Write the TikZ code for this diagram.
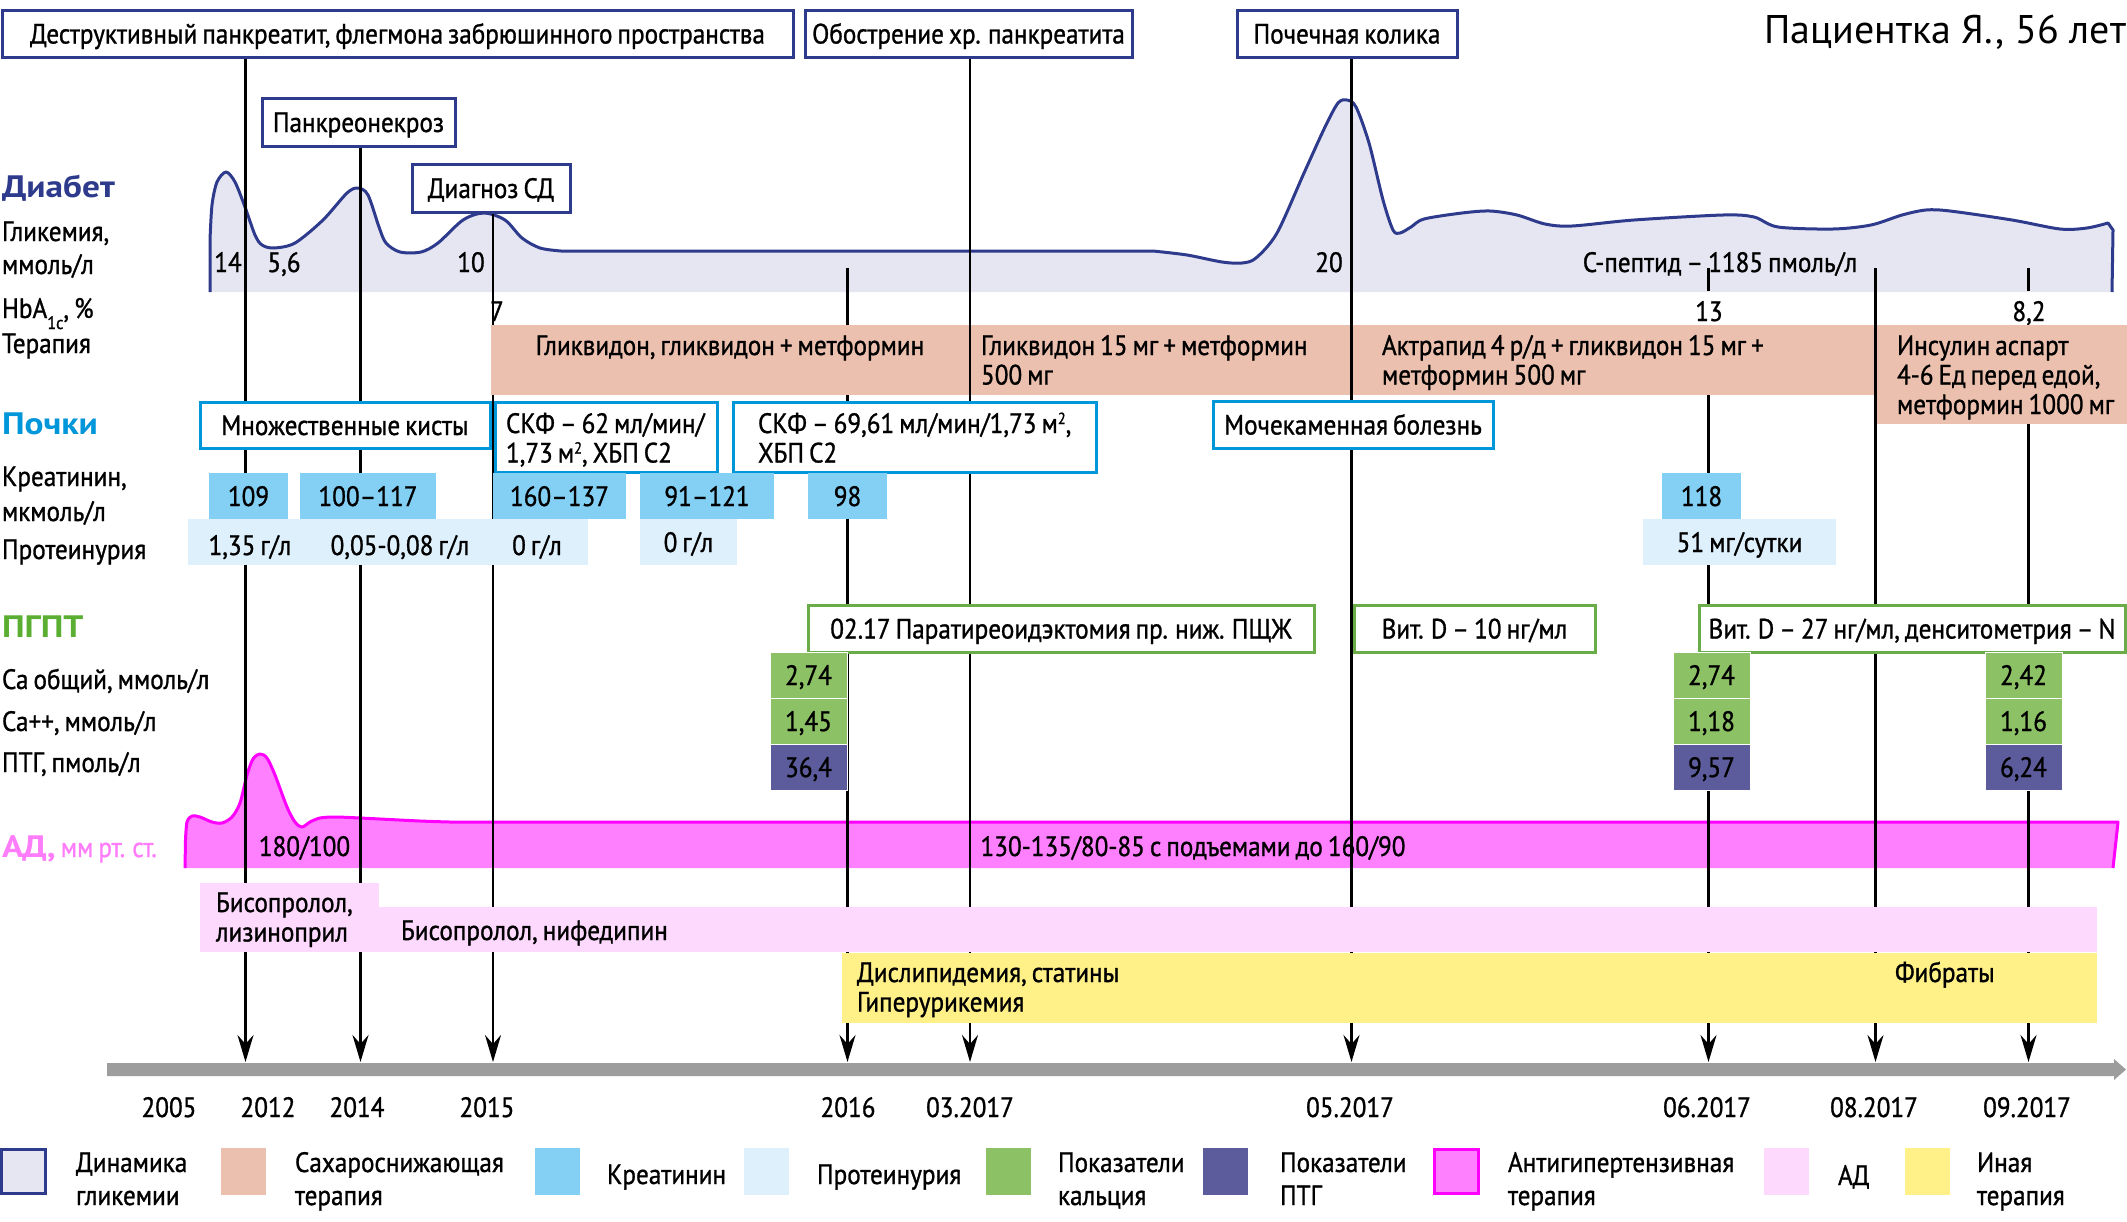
\documentclass[tikz,border=0pt]{standalone}
\usepackage{fontspec}
\setmainfont[FakeStretch=0.9, WordSpace=0.75, UprightFeatures={FakeBold=1}]{PT Sans}
\newfontfamily\wideff[FakeStretch=1.14]{PT Sans}
\newfontfamily\titleff{PT Sans}
\usetikzlibrary{arrows.meta}
\pgfdeclarelayer{bg}
\pgfdeclarelayer{lines}
\pgfdeclarelayer{top}
\pgfsetlayers{bg,lines,main,top}
\definecolor{navy}{HTML}{2E3A8C}
\definecolor{lav}{HTML}{E6E6F2}
\definecolor{salmon}{HTML}{ECC0AE}
\definecolor{kcyan}{HTML}{0096DA}
\definecolor{creat}{HTML}{84D0F5}
\definecolor{prot}{HTML}{DEF0FC}
\definecolor{pgreen}{HTML}{6AAD48}
\definecolor{pgtxt}{HTML}{5AAF33}
\definecolor{cagreen}{HTML}{8DC165}
\definecolor{ptgpur}{HTML}{5C5C9C}
\definecolor{adfill}{HTML}{FF80FF}
\definecolor{adline}{HTML}{FF00FF}
\definecolor{adtxt}{HTML}{FF7DFB}
\definecolor{palepink}{HTML}{FDD9FD}
\definecolor{yel}{HTML}{FFF087}
\definecolor{tlgray}{HTML}{9D9D9D}
\newcommand\fs{\fontsize{28}{29.5}\selectfont}
\newcommand\hfs{\fontsize{31}{32}\selectfont\wideff\bfseries}
\newcommand\ml[1]{\begin{tabular}[t]{@{}l@{}}#1\end{tabular}}
\newcommand\mlb[1]{{\renewcommand\arraystretch{1.12}\begin{tabular}[t]{@{}l@{}}#1\end{tabular}}}
\newcommand\sqm{м\raisebox{9pt}{\fontsize{16}{16}\selectfont 2}}
\begin{document}
\begin{tikzpicture}[x=1pt,y=-1pt,
  every node/.style={font=\fs, inner sep=0pt, outer sep=0pt},
  txt/.style={anchor=base west},
  ctxt/.style={anchor=base},
  hdr/.style={anchor=base west, font=\hfs},
  rbox/.style={anchor=north west, text height=26pt, text depth=6pt},
  tbox/.style={rbox, draw=navy, line width=3pt, fill=white},
  kbox/.style={rbox, draw=kcyan, line width=3pt, fill=white},
  gbox/.style={rbox, draw=pgreen, line width=3pt, fill=white},
  ther/.style={rbox, fill=salmon},
  crb/.style={rbox, fill=creat, minimum height=46},
  prb/.style={rbox, fill=prot, minimum height=46},
  cab/.style={rbox, fill=cagreen, draw=white, line width=1pt, minimum width=77, minimum height=46},
  ptb/.style={rbox, fill=ptgpur, draw=white, line width=1pt, minimum width=77, minimum height=46},
  adb/.style={rbox, fill=palepink},
  othb/.style={rbox, fill=yel},
  legb/.style={rbox, minimum width=45, minimum height=47},
  evline/.style={line width=2.5pt, black},
  evarrow/.style={evline, -{Stealth[length=27pt,width=16pt,inset=9pt]}}
]
\useasboundingbox (0,0) rectangle (2127,1221);

% ---------- curves (background) ----------
\begin{pgfonlayer}{bg}
\fill[lav] (210,292) -- plot[smooth, tension=0.5] coordinates {(210,240) (212,205) (217,182) (226,172) (235,182) (245,207) (255,235) (262,245) (274,248) (295,243) (323,220) (347,193) (358,188) (368,195) (379,227) (386,243) (400,252) (421,252) (438,243) (463,220) (484,213) (505,220) (522,238) (540,248) (561,251)}
  -- plot[smooth, tension=0.5] coordinates {(1153,251) (1187,255) (1222,262) (1242,263) (1256,258) (1277,233) (1304,173) (1325,127) (1338,103) (1347,100) (1356,107) (1369,143) (1383,200) (1393,230) (1400,233) (1411,227) (1424,219) (1462,213) (1490,211) (1517,215) (1545,224) (1572,226) (1634,220) (1723,215) (1754,217) (1778,227) (1833,229) (1871,225) (1902,215) (1926,210) (1950,211) (2012,220) (2060,229) (2087,228) (2108,223)}
  -- (2113,230) -- (2112,292) -- cycle;
\draw[navy, line width=3pt, line join=round] (210,292) -- plot[smooth, tension=0.5] coordinates {(210,240) (212,205) (217,182) (226,172) (235,182) (245,207) (255,235) (262,245) (274,248) (295,243) (323,220) (347,193) (358,188) (368,195) (379,227) (386,243) (400,252) (421,252) (438,243) (463,220) (484,213) (505,220) (522,238) (540,248) (561,251)}
  -- plot[smooth, tension=0.5] coordinates {(1153,251) (1187,255) (1222,262) (1242,263) (1256,258) (1277,233) (1304,173) (1325,127) (1338,103) (1347,100) (1356,107) (1369,143) (1383,200) (1393,230) (1400,233) (1411,227) (1424,219) (1462,213) (1490,211) (1517,215) (1545,224) (1572,226) (1634,220) (1723,215) (1754,217) (1778,227) (1833,229) (1871,225) (1902,215) (1926,210) (1950,211) (2012,220) (2060,229) (2087,228) (2108,223)}
  -- (2113,230) -- (2112,292);
\fill[adfill] (185,868) -- plot[smooth, tension=0.5] coordinates {(185.5,840) (187,822) (192,816) (200,817) (212,822) (222,823) (232,817) (240,803) (247,775) (253,759) (260,754) (267,758) (275,775) (287,807) (295,822) (302,827) (310,822) (320,818) (335,817) (360,818) (420,821) (450,822)}
  -- (2118,822) -- (2113,868) -- cycle;
\draw[adline, line width=3pt, line join=round] (185,868) -- plot[smooth, tension=0.5] coordinates {(185.5,840) (187,822) (192,816) (200,817) (212,822) (222,823) (232,817) (240,803) (247,775) (253,759) (260,754) (267,758) (275,775) (287,807) (295,822) (302,827) (310,822) (320,818) (335,817) (360,818) (420,821) (450,822)}
  -- (2118,822) -- (2113,868);
\end{pgfonlayer}

% ---------- title ----------
\node[anchor=base east, font=\fontsize{40}{42}\selectfont\titleff] (title) at (2126,43) {Пациентка Я., 56 лет};

% ---------- event boxes ----------
\node[tbox, minimum width=791, minimum height=47] (tA) at (2,10) {Деструктивный панкреатит, флегмона забрюшинного пространства};
\node[tbox, minimum width=327, minimum height=47] (tB) at (805,10) {Обострение хр. панкреатита};
\node[tbox, minimum width=220, minimum height=47] (tC) at (1237,10) {Почечная колика};
\node[tbox, minimum width=193, minimum height=48] (tD) at (262,98) {Панкреонекроз};
\node[tbox, minimum width=158, minimum height=48] (tE) at (412,164) {Диагноз СД};

% ---------- left labels ----------
\node[hdr, text=navy] (hDiab) at (2,197) {Диабет};
\node[txt] (lGl1) at (2,241) {Гликемия,};
\node[txt] (lGl2) at (2,274) {ммоль/л};
\node[txt] (lHb) at (2,318) {HbA\raisebox{-11pt}{\fontsize{18}{18}\selectfont 1c}, \%};
\node[txt] (lTh) at (2,353) {Терапия};
\node[hdr, text=kcyan] (hKid) at (2,434) {Почки};
\node[txt] (lCr1) at (2,486) {Креатинин,};
\node[txt] (lCr2) at (2,521) {мкмоль/л};
\node[txt] (lPr) at (2,559) {Протеинурия};
\node[hdr, text=pgtxt] (hPg) at (2,637) {ПГПТ};
\node[txt] (lCa) at (2,689) {Ca общий, ммоль/л};
\node[txt] (lCa2) at (2,731) {Ca++, ммоль/л};
\node[txt] (lPtg) at (2,772) {ПТГ, пмоль/л};
\node[txt, text=adtxt] (hAd) at (2,857) {{\hfs АД,} мм рт. ст.};

% ---------- glycemia values ----------
\node[ctxt] (g14) at (228,272) {14};
\node[ctxt] (g56) at (284,272) {5,6};
\node[ctxt] (g10) at (471,272) {10};
\node[ctxt] (g20) at (1329,272) {20};
\node[ctxt] (gcp) at (1720,272) {С-пептид – 1185 пмоль/л};
\node[ctxt] (h7) at (497,321) {7};
\node[ctxt] (h13) at (1709,321) {13};
\node[ctxt] (h82) at (2029,321) {8,2};

% ---------- therapy ----------
\node[ther, minimum width=479, minimum height=70] (seg1) at (491,325) {};
\node[ther, minimum width=381, minimum height=70] (seg2) at (970,325) {};
\node[ther, minimum width=524, minimum height=70] (seg3) at (1351,325) {};
\node[ther, minimum width=250, minimum height=99] (seg4) at (1877,325) {};
\node[ctxt] (seg1t) at (730,355) {Гликвидон, гликвидон + метформин};
\node[txt] (seg2t) at (981,355) {\ml{Гликвидон 15 мг + метформин\\500 мг}};
\node[txt] (seg3t) at (1382,355) {\ml{Актрапид 4 р/д + гликвидон 15 мг +\\метформин 500 мг}};
\node[txt] (seg4t) at (1897,355) {\ml{Инсулин аспарт\\4-6 Ед перед едой,\\метформин 1000 мг}};

% ---------- kidneys ----------
\node[kbox, minimum width=290, minimum height=46] (k1) at (200,402) {Множественные кисты};
\node[kbox, minimum width=222, minimum height=70] (k2) at (495,402) {};
\node[kbox, minimum width=363, minimum height=70] (k3) at (733,402) {};
\node[kbox, minimum width=280, minimum height=47] (k4) at (1213,401) {Мочекаменная болезнь};
\node[txt] (k2t) at (506,433) {\ml{СКФ – 62 мл/мин/\\1,73 \sqm, ХБП С2}};
\node[txt] (k3t) at (758,433) {\ml{СКФ – 69,61 мл/мин/1,73 \sqm,\\ХБП С2}};

\node[crb, minimum width=79] (c1) at (209,473) {109};
\node[crb, minimum width=136] (c2) at (300,473) {100–117};
\node[crb, minimum width=133] (c3) at (493,473) {160–137};
\node[crb, minimum width=134] (c4) at (640,473) {91–121};
\node[crb, minimum width=79] (c5) at (808,473) {98};
\node[crb, minimum width=79] (c6) at (1662,473) {118};

\node[prb, minimum width=400] (p1) at (188,519) {};
\node[prb, minimum width=97] (p2) at (640,519) {0 г/л};
\node[prb, minimum width=193] (p3) at (1643,519) {51 мг/сутки};
\node[ctxt] (p1a) at (250,555) {1,35 г/л};
\node[ctxt] (p1b) at (400,555) {0,05-0,08 г/л};
\node[ctxt] (p1c) at (537,555) {0 г/л};

% ---------- PGPT ----------
\node[gbox, minimum width=506, minimum height=47] (gb1) at (808,605) {02.17 Паратиреоидэктомия пр. ниж. ПЩЖ};
\node[gbox, minimum width=241, minimum height=47] (gb2) at (1354,605) {Вит. D – 10 нг/мл};
\node[gbox, minimum width=426, minimum height=47] (gb3) at (1699,605) {Вит. D – 27 нг/мл, денситометрия – N};

\node[cab] (ca1) at (770,652) {2,74};
\node[cab] (cb1) at (770,698) {1,45};
\node[ptb] (pt1) at (770,744) {36,4};
\node[cab] (ca2) at (1673,652) {2,74};
\node[cab] (cb2) at (1673,698) {1,18};
\node[ptb] (pt2) at (1673,744) {9,57};
\node[cab] (ca3) at (1985,652) {2,42};
\node[cab] (cb3) at (1985,698) {1,16};
\node[ptb] (pt3) at (1985,744) {6,24};

% ---------- BP ----------
\node[ctxt] (ad180) at (304.5,856) {180/100};
\node[ctxt] (ad130) at (1193,856) {130-135/80-85 с подъемами до 160/90};
\node[adb, minimum width=179, minimum height=69] (ad1) at (200,883) {};
\node[adb, minimum width=1718, minimum height=45] (ad2) at (379,907) {};
\node[txt] (ad1t) at (216,912) {\ml{Бисопролол,\\лизиноприл}};
\node[txt] (ad2t) at (401,940) {Бисопролол, нифедипин};
\node[othb, minimum width=1255, minimum height=70] (oth) at (842,953) {};
\node[txt] (otht) at (857,982) {\ml{Дислипидемия, статины\\Гиперурикемия}};
\node[txt] (fib) at (1895,982) {Фибраты};

% ---------- timeline ----------
\fill[tlgray] (107,1063) -- (2114,1063) -- (2114,1059) -- (2126,1069.5) -- (2114,1080) -- (2114,1076) -- (107,1076) -- cycle;
\coordinate (T1) at (245.5,1062);
\coordinate (T2) at (360.5,1062);
\coordinate (T3) at (493,1062);
\coordinate (T4) at (847.5,1062);
\coordinate (T5) at (970,1062);
\coordinate (T6) at (1351.5,1062);
\coordinate (T7) at (1708.5,1062);
\coordinate (T8) at (1875.5,1062);
\coordinate (T9) at (2028.5,1062);
\coordinate (s4) at (847.5,268);
\coordinate (s8) at (1875.5,268);
\coordinate (k7a) at (1708.5,268);
\coordinate (k7b) at (1708.5,291);
\coordinate (k9a) at (2028.5,268);
\coordinate (k9b) at (2028.5,291);

\node[ctxt] (y2005) at (169,1117) {2005};
\node[ctxt] (y2012) at (268,1117) {2012};
\node[ctxt] (y2014) at (357,1117) {2014};
\node[ctxt] (y2015) at (487,1117) {2015};
\node[ctxt] (y2016) at (848,1117) {2016};
\node[ctxt] (y0317) at (970,1117) {03.2017};
\node[ctxt] (y0517) at (1350,1117) {05.2017};
\node[ctxt] (y0617) at (1707,1117) {06.2017};
\node[ctxt] (y0817) at (1874,1117) {08.2017};
\node[ctxt] (y0917) at (2027,1117) {09.2017};

\begin{pgfonlayer}{lines}
\draw[evarrow] (tA.south -| T1) -- (T1);
\draw[evarrow] (tD.south -| T2) -- (T2);
\draw[evarrow] (tE.south -| T3) -- (T3);
\draw[evarrow] (s4) -- (T4);
\draw[evarrow] (tB.south -| T5) -- (T5);
\draw[evarrow] (tC.south -| T6) -- (T6);
\draw[evarrow] (seg3.south -| T7) -- (T7);
\draw[evarrow] (s8) -- (T8);
\draw[evarrow] (seg4.south -| T9) -- (T9);
\draw[evline] (k7a) -- (k7b);
\draw[evline] (k9a) -- (k9b);
\end{pgfonlayer}
\begin{pgfonlayer}{top}
\draw[evline] (seg1.north -| T5) -- (seg1.south -| T5);
\draw[evline] (seg2.north -| T6) -- (seg2.south -| T6);
\draw[evline] (seg3.north -| T8) -- (seg4.south -| T8);
\end{pgfonlayer}

% ---------- legend ----------
\node[legb, fill=lav, draw=navy, line width=3pt, minimum width=44, minimum height=44] (L1) at (1.5,1149.5) {};
\node[legb, fill=salmon] (L2) at (221,1148) {};
\node[legb, fill=creat] (L3) at (535,1148) {};
\node[legb, fill=prot] (L4) at (744,1148) {};
\node[legb, fill=cagreen] (L5) at (986,1148) {};
\node[legb, fill=ptgpur] (L6) at (1203,1148) {};
\node[legb, fill=adfill, draw=adline, line width=3pt, minimum width=44, minimum height=44] (L7) at (1434.5,1149.5) {};
\node[legb, fill=palepink] (L8) at (1764,1148) {};
\node[legb, fill=yel] (L9) at (1905,1148) {};
\node[txt] (L1t) at (76,1172) {\mlb{Динамика\\гликемии}};
\node[txt] (L2t) at (295,1172) {\mlb{Сахароснижающая\\терапия}};
\node[txt] (L3t) at (607,1184) {Креатинин};
\node[txt] (L4t) at (817,1184) {Протеинурия};
\node[txt] (L5t) at (1058,1172) {\mlb{Показатели\\кальция}};
\node[txt] (L6t) at (1280,1172) {\mlb{Показатели\\ПТГ}};
\node[txt] (L7t) at (1508,1172) {\mlb{Антигипертензивная\\терапия}};
\node[txt] (L8t) at (1838,1185) {АД};
\node[txt] (L9t) at (1977,1172) {\mlb{Иная\\терапия}};
\end{tikzpicture}
\end{document}
